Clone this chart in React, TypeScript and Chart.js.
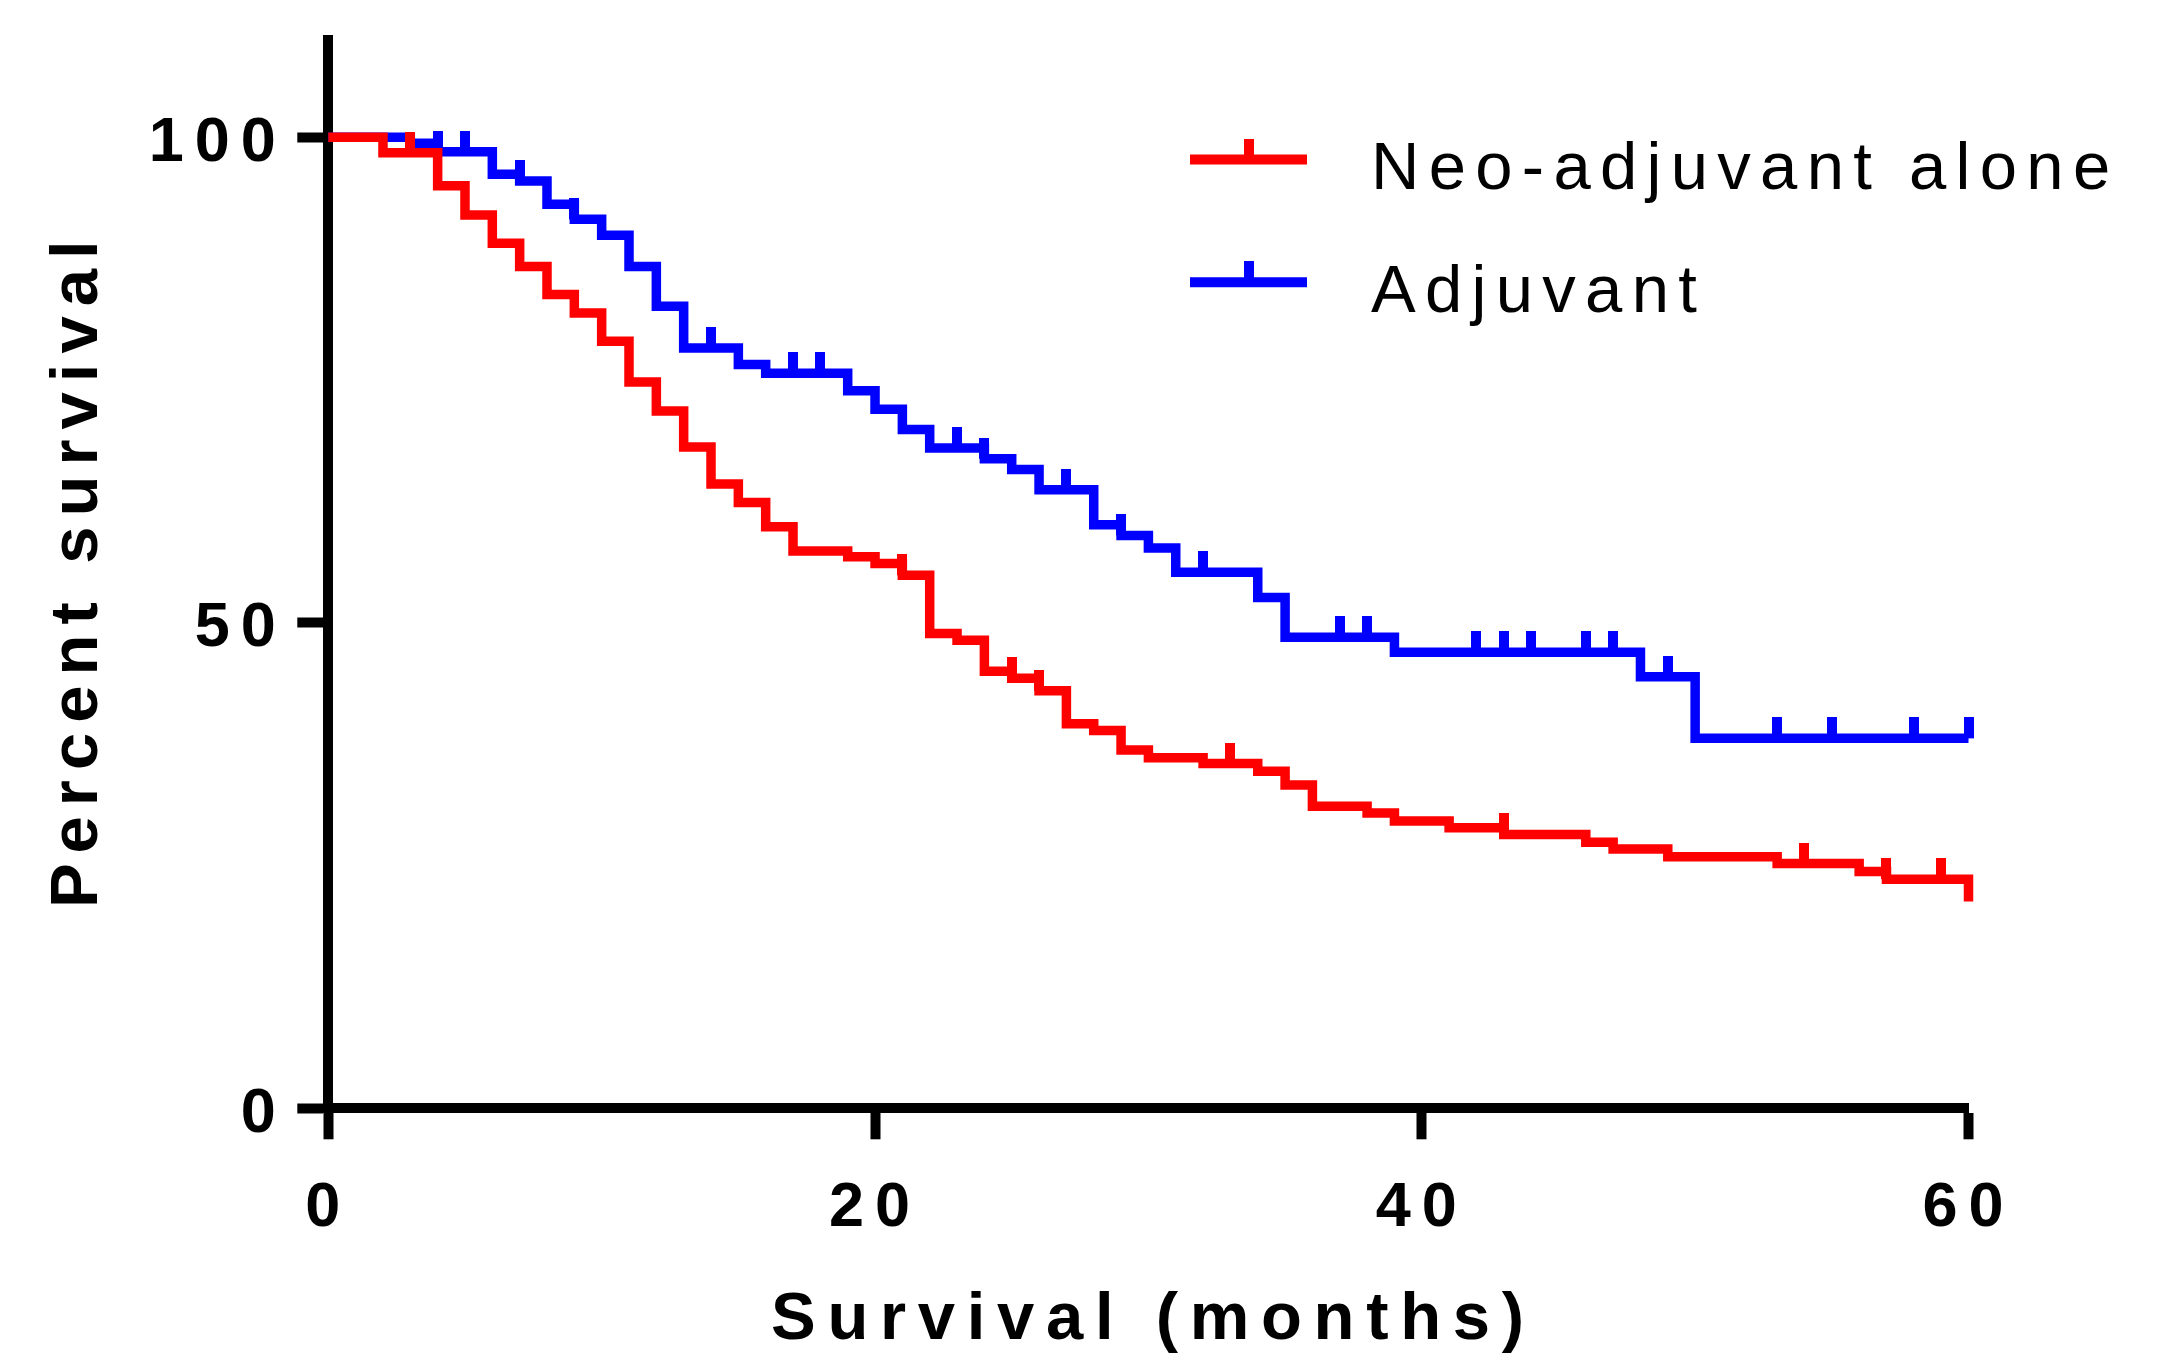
import React, { useEffect, useRef } from 'react';
import { Chart, registerables } from 'chart.js';

Chart.register(...registerables);

// ---------- data ----------
const NEO_LABEL = 'Neo-adjuvant alone';
const ADJ_LABEL = 'Adjuvant';

const NEO_TIMES = [0, 2, 4, 5, 6, 7, 8, 9, 10, 11, 12, 13, 14, 15, 16, 17, 19, 20, 21, 22, 23, 24, 25, 26, 27, 28, 29, 30, 32, 34, 35, 36, 38, 39, 41, 43, 46, 47, 49, 53, 56, 57, 60];
const NEO_SURVIVAL = [100, 98.4, 95.0, 92.0, 89.1, 86.7, 83.8, 81.9, 79.0, 74.8, 71.8, 68.1, 64.3, 62.4, 59.9, 57.4, 56.8, 56.1, 54.9, 48.9, 48.2, 45.0, 44.3, 43.0, 39.6, 38.9, 36.9, 36.1, 35.5, 34.7, 33.3, 31.1, 30.4, 29.6, 28.9, 28.2, 27.4, 26.7, 25.9, 25.2, 24.4, 23.6, 21.3];
const NEO_CENSORED = [3, 21, 25, 26, 33, 43, 54, 57, 59];

const ADJ_TIMES = [0, 3, 4, 6, 7, 8, 9, 10, 11, 12, 13, 15, 16, 19, 20, 21, 22, 24, 25, 26, 28, 29, 30, 31, 34, 35, 39, 48, 50, 60];
const ADJ_SURVIVAL = [100, 99.4, 98.5, 96.2, 95.5, 93.1, 91.55, 89.9, 86.7, 82.6, 78.3, 76.6, 75.7, 73.9, 72.0, 69.9, 68.0, 66.9, 65.8, 63.7, 60.1, 59.0, 57.7, 55.2, 52.6, 48.5, 46.96, 44.45, 38.1, 38.1];
const ADJ_CENSORED = [4, 5, 7, 9, 14, 17, 18, 23, 24, 27, 29, 32, 37, 38, 42, 43, 44, 46, 47, 49, 53, 55, 58, 60];

const X_TICKS = [0, 20, 40, 60];
const Y_TICKS = [0, 50, 100];
const X_TITLE = 'Survival (months)';
const Y_TITLE = 'Percent survival';

// ---------- layout / style ----------
const W = 2165;
const H = 1354;
const AREA_LEFT = 328.3;
const AREA_RIGHT = 1968.5;
const AREA_BOTTOM = 1108.3;
const PX_PER_PCT = 9.71;
const X_MIN = 0;
const X_MAX = 60;
const Y_MIN = 0;
const Y_MAX = 110;
const AREA_TOP = AREA_BOTTOM - Y_MAX * PX_PER_PCT;

const FONT = "'Liberation Sans', Arial, Helvetica, sans-serif";
const RED = '#ff0000';
const BLUE = '#0000ff';
const LINE_W = 9.5;
const AXIS_W = 10;

function stepValueAt(times: number[], values: number[], t: number): number {
  let v = values[0];
  for (let i = 0; i < times.length; i++) {
    if (times[i] <= t) v = values[i];
    else break;
  }
  return v;
}

function makeTick(color: string): HTMLCanvasElement {
  const c = document.createElement('canvas');
  c.width = 10;
  c.height = 42;
  const g = c.getContext('2d')!;
  g.fillStyle = color;
  g.fillRect(0, 0, 10, 21);
  return c;
}

function zeroPadding(scale: any) {
  scale.paddingTop = 0;
  scale.paddingBottom = 0;
  scale.paddingLeft = 0;
  scale.paddingRight = 0;
}

function wrapTitle(scale: any, spacing: string, dx: number, dy: number) {
  if (!scale || scale.__wrapped) return;
  const orig = scale.drawTitle;
  scale.drawTitle = function (...args: any[]) {
    const ctx = this.ctx as any;
    ctx.save();
    ctx.letterSpacing = spacing;
    ctx.translate(dx, dy);
    orig.apply(this, args);
    ctx.restore();
  };
  scale.__wrapped = true;
}

export default function App() {
  const ref = useRef<HTMLCanvasElement | null>(null);

  useEffect(() => {
    const canvas = ref.current;
    if (!canvas) return;
    document.body.style.margin = '0';
    document.body.style.overflow = 'hidden';

    const redTick = makeTick(RED);
    const blueTick = makeTick(BLUE);

    const series = [
      { label: NEO_LABEL, times: NEO_TIMES, values: NEO_SURVIVAL, censored: NEO_CENSORED, color: RED, tick: redTick },
      { label: ADJ_LABEL, times: ADJ_TIMES, values: ADJ_SURVIVAL, censored: ADJ_CENSORED, color: BLUE, tick: blueTick },
    ];

    const datasets: any[] = [];
    series.forEach((s) => {
      datasets.push({
        type: 'line',
        label: s.label + ' (censored)',
        data: s.censored.map((t) => ({ x: t, y: stepValueAt(s.times, s.values, t) })),
        showLine: false,
        pointStyle: s.tick,
        pointRadius: 5,
        pointHoverRadius: 5,
        clip: false,
      });
      datasets.push({
        type: 'line',
        label: s.label,
        kmSeries: true,
        censorMark: s.tick,
        data: s.times.map((t, i) => ({ x: t, y: s.values[i] })),
        borderColor: s.color,
        backgroundColor: s.color,
        borderWidth: LINE_W,
        borderCapStyle: 'butt',
        borderJoinStyle: 'miter',
        stepped: 'before',
        pointRadius: 0,
        fill: false,
        clip: false,
      });
    });

    const spacingPlugin = {
      id: 'letterSpacing',
      beforeDraw(chart: any) {
        (chart.ctx as any).letterSpacing = '11px';
        wrapTitle(chart.scales.x, '11.7px', 5, 0);
        wrapTitle(chart.scales.y, '10px', 0, -5);
      },
    };

    const legendPlugin = {
      id: 'kmLegend',
      afterDraw(chart: any) {
        const ctx = chart.ctx as CanvasRenderingContext2D;
        const rows = chart.data.datasets.filter((d: any) => d.kmSeries);
        const x0 = 1190;
        const x1 = 1307;
        const rowY = [159.5, 282.3];
        ctx.save();
        (ctx as any).letterSpacing = '9.3px';
        rows.forEach((d: any, i: number) => {
          const y = rowY[i];
          ctx.strokeStyle = d.borderColor;
          ctx.lineWidth = AXIS_W;
          ctx.lineCap = 'butt';
          ctx.beginPath();
          ctx.moveTo(x0, y);
          ctx.lineTo(x1, y);
          ctx.stroke();
          const mark = d.censorMark as HTMLCanvasElement;
          ctx.drawImage(mark, (x0 + x1) / 2 - mark.width / 2, y - mark.height / 2);
          ctx.fillStyle = '#000';
          ctx.font = `normal 67px ${FONT}`;
          ctx.textAlign = 'left';
          ctx.textBaseline = 'alphabetic';
          ctx.fillText(d.label, 1371, y + 29.8);
        });
        ctx.restore();
      },
    };

    const tickFont = { family: FONT, size: 63, weight: 'bold' as const, lineHeight: 1.2 };
    const titleFont = { family: FONT, size: 67, weight: 'bold' as const, lineHeight: 1 };

    const chart = new Chart(canvas, {
      type: 'line',
      data: { datasets },
      options: {
        responsive: false,
        maintainAspectRatio: false,
        devicePixelRatio: 1,
        animation: false,
        events: [],
        layout: { padding: { left: 0, top: AREA_TOP, right: W - AREA_RIGHT, bottom: 0 } },
        plugins: {
          legend: { display: false },
          tooltip: { enabled: false },
        },
        scales: {
          x: {
            type: 'linear',
            position: 'bottom',
            min: X_MIN,
            max: X_MAX,
            afterBuildTicks: (scale: any) => {
              scale.ticks = X_TICKS.map((v) => ({ value: v }));
            },
            afterFit: (scale: any) => {
              scale.height = H - AREA_BOTTOM;
              zeroPadding(scale);
            },
            border: { display: true, color: '#000', width: AXIS_W },
            grid: {
              display: true,
              drawOnChartArea: false,
              drawTicks: true,
              tickLength: 31,
              tickWidth: AXIS_W,
              tickColor: '#000',
              color: '#000',
            },
            ticks: {
              color: '#000',
              font: tickFont,
              padding: 32,
              maxRotation: 0,
              autoSkip: false,
            },
            title: {
              display: true,
              text: X_TITLE,
              color: '#000',
              font: titleFont,
              padding: { top: 0, bottom: 0 },
            },
          },
          y: {
            type: 'linear',
            position: 'left',
            min: Y_MIN,
            max: Y_MAX,
            afterBuildTicks: (scale: any) => {
              scale.ticks = Y_TICKS.map((v) => ({ value: v }));
            },
            afterFit: (scale: any) => {
              scale.width = AREA_LEFT;
              zeroPadding(scale);
            },
            border: { display: true, color: '#000', width: AXIS_W },
            grid: {
              display: true,
              drawOnChartArea: false,
              drawTicks: true,
              tickLength: 31,
              tickWidth: AXIS_W,
              tickColor: '#000',
              color: '#000',
            },
            ticks: {
              color: '#000',
              font: tickFont,
              padding: 10.5,
              labelOffset: 6,
              autoSkip: false,
            },
            title: {
              display: true,
              text: Y_TITLE,
              color: '#000',
              font: titleFont,
              padding: { top: 45, bottom: 0 },
            },
          },
        },
      } as any,
      plugins: [spacingPlugin, legendPlugin],
    });

    return () => {
      chart.destroy();
    };
  }, []);

  return (
    <div style={{ position: 'absolute', left: 0, top: 0, width: W, height: H, background: '#fff' }}>
      <canvas ref={ref} width={W} height={H} style={{ width: W, height: H, display: 'block' }} />
    </div>
  );
}
